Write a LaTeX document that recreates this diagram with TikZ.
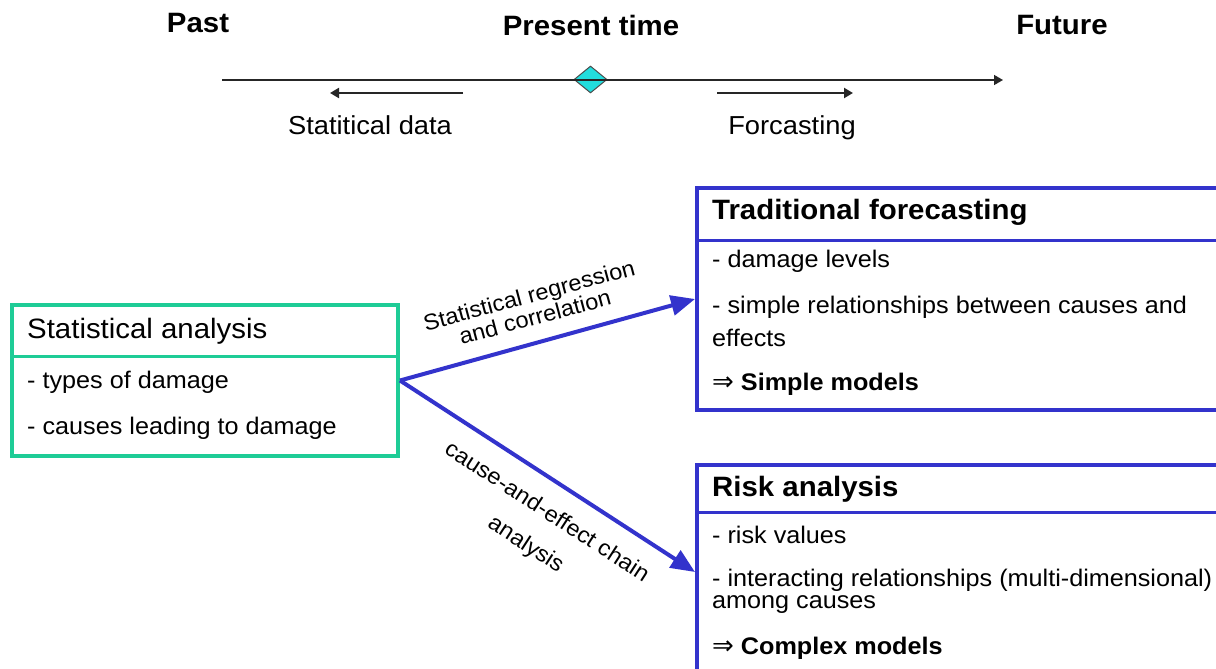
\documentclass[tikz,border=0pt]{standalone}
\usepackage{fontspec}
\setmainfont{Liberation Sans}[FakeStretch=1.05]
\newfontfamily\dejavu{DejaVu Sans}
\usetikzlibrary{arrows.meta,shapes.geometric}
\definecolor{sagreen}{RGB}{30,204,150}
\definecolor{boxblue}{RGB}{51,51,204}
\definecolor{diacyan}{RGB}{34,221,221}
\newcommand{\fs}[1]{\fontsize{#1}{#1}\selectfont}
\tikzset{
  hdr/.style={font=\fs{28}\bfseries, inner sep=0pt},
  tllabel/.style={font=\fs{26}, inner sep=0pt},
  greenbox/.style={draw=sagreen, line width=4pt, anchor=north west, inner sep=0pt},
  bluebox/.style={draw=boxblue, line width=4pt, anchor=north west, inner sep=0pt},
  gdiv/.style={draw=sagreen, line width=3pt},
  bdiv/.style={draw=boxblue, line width=3pt},
  btitle/.style={font=\fs{28}, anchor=west, inner sep=0pt},
  bbtitle/.style={font=\fs{28}\bfseries, anchor=west, inner sep=0pt},
  btext/.style={font=\fs{24}, anchor=west, inner sep=0pt},
  tline/.style={draw=black!85, line width=1.6pt},
  tarrow/.style={draw=black!85, line width=2pt, -{Triangle[length=9pt,width=10pt]}},
  barrow/.style={draw=boxblue, line width=4pt, -{Triangle[length=24pt,width=20pt]}},
  alabel/.style={font=\fs{22.5}, inner sep=0pt, align=center}
}
\begin{document}
\begin{tikzpicture}[x=1pt,y=-1pt]
\useasboundingbox[fill=white] (0,0) rectangle (1216,669);
% headers
\node[hdr] (past) at (198,23) {Past};
\node[hdr] (present) at (591,25) {Present time};
\node[hdr] (future) at (1062,25) {Future};
% timeline
\coordinate (tl) at (222,80);
\coordinate (tr) at (1003,80);
\node[diamond, draw=black!70, fill=diacyan, line width=1pt, minimum width=33pt, minimum height=27pt, inner sep=0pt] (now) at (590.5,79.5) {};
\draw[tline, -{Triangle[length=9pt,width=10pt]}] (tl) -- (tr);
\coordinate (la) at (463,93);
\coordinate (lb) at (330,93);
\coordinate (ra) at (717,93);
\coordinate (rb) at (853,93);
\draw[tarrow] (la) -- (lb);
\draw[tarrow] (ra) -- (rb);
\node[tllabel] (sdata) at (370,125) {Statitical data};
\node[tllabel] (fcast) at (792,128) {Forcasting};
% statistical analysis box
\node[greenbox, minimum width=386pt, minimum height=151pt] (sa) at (10,303) {};
\draw[gdiv] (sa.west |- 0,356) -- (sa.east |- 0,356);
\node[btitle] (sat) at (27,331) {Statistical analysis};
\node[btext] (sa1) at (27,382) {- types of damage};
\node[btext] (sa2) at (27,428) {- causes leading to damage};
% traditional forecasting box
\node[bluebox, minimum width=560pt, minimum height=222pt] (tf) at (695,186) {};
\draw[bdiv] (tf.west |- 0,240) -- (tf.east |- 0,240);
\node[bbtitle] (tft) at (712,212) {Traditional forecasting};
\node[btext] (tf1) at (712,261) {- damage levels};
\node[btext] (tf2) at (712,307) {- simple relationships between causes and};
\node[btext] (tf3) at (712,338) {effects};
\node[btext] (tf4) at (712,384) {{\dejavu\fs{26}⇒} \textbf{Simple models}};
% risk analysis box
\node[bluebox, minimum width=560pt, minimum height=214pt] (ra) at (695,463) {};
\draw[bdiv] (ra.west |- 0,512) -- (ra.east |- 0,512);
\node[bbtitle] (rat) at (712,489) {Risk analysis};
\node[btext] (ra1) at (712,535) {- risk values};
\node[btext] (ra2) at (712,580) {- interacting relationships (multi-dimensional)};
\node[btext] (ra3) at (712,605) {among causes};
\node[btext] (ra4) at (712,648) {{\dejavu\fs{26}⇒} \textbf{Complex models}};
% arrows
\draw[barrow] (sa.east) -- (tf.west);
\draw[barrow] (sa.east) -- (ra.west);
\node[alabel, rotate=15] (lab1) at (532,306) {Statistical regression\\and correlation};
\node[alabel, rotate=-33] (lab2) at (536,529) {cause-and-effect chain\\[16pt]analysis};
\end{tikzpicture}
\end{document}
